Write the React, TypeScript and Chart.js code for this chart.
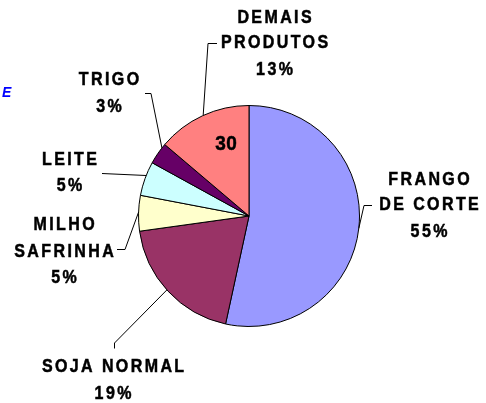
import React, { useEffect, useRef } from 'react';
import { Chart, registerables } from 'chart.js';

Chart.register(...registerables);

const categories = ['FRANGO DE CORTE', 'SOJA NORMAL', 'MILHO SAFRINHA', 'LEITE', 'TRIGO', 'DEMAIS PRODUTOS'];
const shares = [53.4, 19.4, 5.2, 5.0, 3.2, 13.8];
const percentLabels = ['55%', '19%', '5%', '5%', '3%', '13%'];
const nameLines = [['FRANGO', 'DE CORTE'], ['SOJA NORMAL'], ['MILHO', 'SAFRINHA'], ['LEITE'], ['TRIGO'], ['DEMAIS', 'PRODUTOS']];
const colors = ['#9999FF', '#993366', '#FFFFCC', '#CCFFFF', '#660066', '#FF8080'];
const innerNote = '30';
const cornerText = 'E';

// label layout: text centre x, mid-y of each line, leader edge angle (deg clockwise from top), then leader polyline points
const labelLayout = [
  { x: 429, ys: [179, 204, 231], angle: 96.4, pts: [[364, 205.5], [372, 205.5]] },
  { x: 113, ys: [366, 392.5], angle: 228, pts: [[114.5, 343], [114.5, 348.5]] },
  { x: 64, ys: [223.5, 251, 277], angle: 272, pts: [[125, 249.5], [117, 249.5]] },
  { x: 69.5, ys: [159, 185], angle: 291.5, pts: [[102, 173.5]] },
  { x: 109, ys: [79, 105.5], angle: 308, pts: [[151, 93.5], [145, 93.5]] },
  { x: 274.5, ys: [16.5, 41.5, 69], angle: 335.5, pts: [[208, 43.5], [217, 43.5]] },
];

function spacedText(ctx: CanvasRenderingContext2D, text: string, x: number, yMid: number, size: number, spacing: number, sy: number) {
  ctx.save();
  ctx.font = `bold ${size}px "Liberation Sans", Arial, sans-serif`;
  (ctx as any).letterSpacing = spacing + 'px';
  const w = ctx.measureText(text).width - spacing;
  ctx.translate(x - w / 2, yMid + 0.358 * size * sy);
  ctx.scale(1, sy);
  ctx.textAlign = 'left';
  ctx.textBaseline = 'alphabetic';
  ctx.fillStyle = '#000';
  ctx.strokeStyle = '#000';
  ctx.lineWidth = 0.45;
  ctx.fillText(text, 0, 0);
  ctx.strokeText(text, 0, 0);
  ctx.restore();
}

const labelPlugin = {
  id: 'pieLabels',
  afterDraw(chart: any) {
    const ctx: CanvasRenderingContext2D = chart.ctx;
    const meta = chart.getDatasetMeta(0);
    const a0 = meta.data[0];
    const cx = a0.x, cy = a0.y, r = a0.outerRadius;
    ctx.save();
    ctx.strokeStyle = '#000';
    ctx.lineWidth = 1;
    labelLayout.forEach((l, i) => {
      const ang = (l.angle - 90) * Math.PI / 180;
      const ex = cx + r * Math.cos(ang);
      const ey = cy + r * Math.sin(ang);
      ctx.beginPath();
      ctx.moveTo(ex, ey);
      l.pts.forEach((p) => ctx.lineTo(p[0], p[1]));
      ctx.stroke();
      const lines = [...nameLines[i], percentLabels[i]];
      lines.forEach((t, k) => spacedText(ctx, t, l.x, l.ys[k], 16, 2.4, 1.12));
    });
    // note inside the last slice
    spacedText(ctx, innerNote, 226, 143, 19, 0.5, 1.05);
    // cut-off title letter
    ctx.font = 'italic bold 14px "Liberation Sans", Arial, sans-serif';
    ctx.fillStyle = '#0000FF';
    ctx.textAlign = 'left';
    ctx.textBaseline = 'alphabetic';
    ctx.fillText(cornerText, 2, 97);
    ctx.restore();
  },
};

export default function App() {
  const ref = useRef<HTMLCanvasElement>(null);
  useEffect(() => {
    if (!ref.current) return;
    const chart = new Chart(ref.current, {
      type: 'pie',
      data: {
        labels: categories,
        datasets: [
          {
            data: shares,
            backgroundColor: colors,
            borderColor: '#000',
            borderWidth: 1,
            hoverOffset: 0,
          },
        ],
      },
      options: {
        responsive: false,
        animation: false,
        events: [],
        layout: { padding: { left: 138, right: 126, top: 105, bottom: 76 } },
        plugins: { legend: { display: false }, tooltip: { enabled: false } },
      },
      plugins: [labelPlugin],
    });
    return () => chart.destroy();
  }, []);
  return (
    <canvas
      ref={ref}
      width={486}
      height={403}
      style={{ position: 'fixed', left: 0, top: 0, width: 486, height: 403, display: 'block', background: '#fff' }}
    />
  );
}
